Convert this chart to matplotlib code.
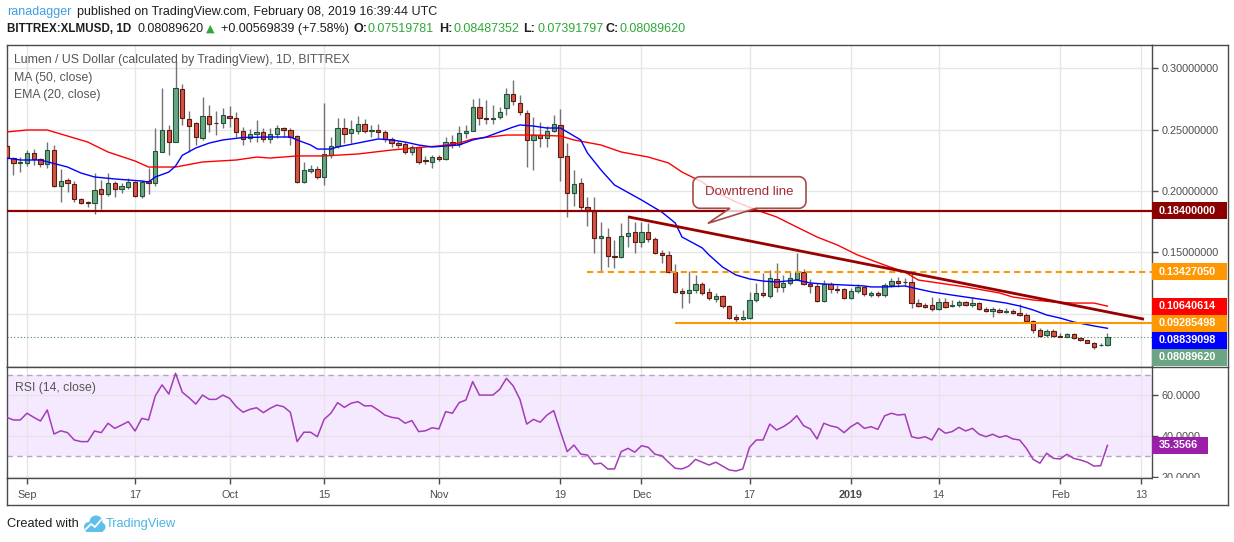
import numpy as np
import pandas as pd
import matplotlib
matplotlib.use("Agg")
import matplotlib.pyplot as plt
from matplotlib.patches import Rectangle, Circle, Polygon
from matplotlib.lines import Line2D
from matplotlib.transforms import IdentityTransform

W, H = 1234, 542
plt.rcParams['font.family'] = ['Liberation Sans', 'DejaVu Sans']

# XLM/USD daily candles, Bittrex, 2018-08-29 .. 2019-02-08
start = pd.Timestamp('2018-08-29')

opens = [
    .2366, .2268, .2228, .2228, .2309, .2260, .2220, .2333, .2041, .2089,
    .2057, .1935, .1911, .1902, .2016, .1976, .2065, .2016, .2033, .2073,
    .1959, .2081, .2065, .2317, .2496, .2398, .2829, .2585, .2553, .2431,
    .2610, .2553, .2553, .2610, .2593, .2488, .2431, .2463, .2480, .2423,
    .2463, .2512, .2496, .2447, .2073, .2163, .2179, .2114, .2293, .2366,
    .2512, .2472, .2488, .2545, .2488, .2496, .2480, .2423, .2390, .2382,
    .2317, .2358, .2252, .2236, .2276, .2260, .2398, .2382, .2472, .2488,
    .2683, .2593, .2585, .2602, .2675, .2789, .2715, .2634, .2415, .2455,
    .2431, .2488, .2537, .2285, .1984, .2065, .1870, .1837, .1618, .1626,
    .1472, .1463, .1634, .1667, .1585, .1667, .1610, .1496, .1480, .1341,
    .1187, .1171, .1195, .1244, .1179, .1122, .1146, .1065, .0976, .0959,
    .0967, .1114, .1171, .1146, .1285, .1220, .1252, .1285, .1341, .1244,
    .1228, .1106, .1244, .1203, .1203, .1130, .1187, .1220, .1154, .1171,
    .1154, .1236, .1268, .1260, .1260, .1089, .1073, .1073, .1041, .1098,
    .1065, .1073, .1098, .1073, .1089, .1041, .1024, .1033, .1016, .1024,
    .1008, .0992, .0943, .0870, .0829, .0862, .0823, .0815, .0838, .0805,
    .0785, .0768, .0745, .07519781]
highs = [
    .2382, .2276, .2276, .2333, .2341, .2268, .2398, .2374, .2179, .2106,
    .2081, .1943, .1919, .2146, .2089, .2146, .2081, .2065, .2106, .2081,
    .2089, .2187, .2512, .2837, .2537, .3049, .2870, .2650, .2561, .2764,
    .2699, .2650, .2675, .2691, .2642, .2520, .2504, .2577, .2512, .2512,
    .2537, .2520, .2512, .2455, .2236, .2211, .2203, .2715, .2439, .2593,
    .2593, .2577, .2610, .2585, .2537, .2545, .2496, .2439, .2407, .2398,
    .2374, .2366, .2285, .2293, .2293, .2439, .2455, .2528, .2537, .2748,
    .2756, .2740, .2699, .2683, .2837, .2902, .2780, .2659, .2602, .2561,
    .2528, .2618, .2667, .2390, .2171, .2106, .1951, .1951, .1748, .1699,
    .1602, .1740, .1789, .1748, .1748, .1740, .1626, .1520, .1512, .1407,
    .1211, .1350, .1317, .1260, .1211, .1171, .1154, .1073, .1000, .1033,
    .1179, .1252, .1333, .1358, .1415, .1317, .1341, .1496, .1366, .1285,
    .1252, .1276, .1260, .1236, .1211, .1211, .1244, .1228, .1187, .1187,
    .1252, .1293, .1301, .1293, .1333, .1122, .1089, .1138, .1130, .1130,
    .1114, .1114, .1106, .1138, .1098, .1057, .1057, .1049, .1049, .1041,
    .1081, .1008, .0951, .0886, .0878, .0878, .0846, .0846, .0846, .0813,
    .0789, .0772, .0764, .08487352]
lows = [
    .2252, .2130, .2154, .2203, .2211, .2195, .2187, .2033, .1911, .1992,
    .1911, .1894, .1870, .1813, .1854, .1959, .1951, .1984, .2016, .1951,
    .1943, .1976, .2041, .2317, .2293, .2398, .2537, .2317, .2374, .2415,
    .2480, .2455, .2512, .2520, .2439, .2374, .2398, .2398, .2398, .2390,
    .2431, .2439, .2374, .2065, .2065, .2146, .2098, .2049, .2268, .2350,
    .2390, .2390, .2463, .2472, .2439, .2431, .2398, .2358, .2350, .2301,
    .2293, .2220, .2220, .2187, .2244, .2252, .2350, .2358, .2431, .2488,
    .2537, .2545, .2545, .2585, .2618, .2699, .2618, .2195, .2171, .2358,
    .2358, .2480, .2081, .1789, .1878, .1846, .1715, .1496, .1341, .1382,
    .1374, .1455, .1545, .1496, .1545, .1585, .1488, .1415, .1333, .1171,
    .1049, .1089, .1171, .1154, .1114, .1098, .1049, .0959, .0927, .0951,
    .0959, .1098, .1138, .1130, .1179, .1179, .1236, .1276, .1236, .1171,
    .1098, .1098, .1171, .1171, .1122, .1122, .1171, .1146, .1138, .1138,
    .1138, .1220, .1220, .1228, .1049, .1057, .1049, .1024, .1033, .1049,
    .1057, .1057, .1065, .1057, .1033, .1016, .0976, .1008, .1008, .1000,
    .0984, .0927, .0846, .0813, .0813, .0813, .0813, .0810, .0797, .0780,
    .0764, .0715, .0740, .07391797]
closes = [
    .2268, .2228, .2236, .2309, .2260, .2220, .2333, .2041, .2081, .2065,
    .1935, .1902, .1902, .2008, .1976, .2065, .2016, .2041, .2073, .1959,
    .2073, .2065, .2325, .2496, .2398, .2837, .2593, .2528, .2439, .2610,
    .2545, .2550, .2618, .2593, .2480, .2423, .2463, .2480, .2423, .2463,
    .2512, .2496, .2439, .2073, .2171, .2179, .2114, .2301, .2366, .2512,
    .2463, .2504, .2545, .2488, .2496, .2480, .2423, .2390, .2374, .2317,
    .2358, .2236, .2244, .2276, .2260, .2398, .2382, .2472, .2488, .2683,
    .2593, .2585, .2593, .2642, .2789, .2732, .2642, .2415, .2455, .2431,
    .2488, .2545, .2276, .1984, .2057, .1870, .1837, .1618, .1634, .1472,
    .1463, .1634, .1659, .1585, .1667, .1610, .1496, .1480, .1341, .1179,
    .1171, .1195, .1244, .1171, .1130, .1146, .1065, .0967, .0959, .0976,
    .1114, .1171, .1154, .1293, .1220, .1252, .1293, .1341, .1244, .1228,
    .1106, .1244, .1203, .1195, .1130, .1187, .1220, .1163, .1171, .1154,
    .1236, .1268, .1252, .1258, .1089, .1065, .1057, .1041, .1098, .1057,
    .1073, .1098, .1073, .1089, .1041, .1024, .1041, .1016, .1024, .1008,
    .0992, .0943, .0870, .0821, .0862, .0821, .0815, .0838, .0805, .0789,
    .0768, .0732, .0752, .08089620]

# moving averages (day offset from start, value)
ma50_days = [0, 3, 6, 9, 12, 15, 19, 21, 23, 25, 29, 34, 37, 39, 43, 47, 52, 57,
             62, 64, 67, 69, 74, 78, 82, 84, 88, 91, 95, 98, 100, 103, 105, 108,
             111, 114, 117, 120, 123, 126, 128, 130, 133, 135, 138, 142, 147,
             149, 152, 155, 158, 161, 163]
ma50_vals = [.2480, .2496, .2496, .2447, .2398, .2317, .2244, .2195, .2195, .2195,
             .2236, .2252, .2276, .2268, .2285, .2285, .2301, .2333, .2358, .2366,
             .2390, .2423, .2455, .2455, .2447, .2415, .2374, .2317, .2276, .2228,
             .2154, .2073, .1992, .1911, .1846, .1789, .1707, .1626, .1561, .1480,
             .1439, .1398, .1341, .1276, .1252, .1220, .1171, .1138, .1114, .1098,
             .1089, .1089, .10640614]
ema20_days = [0, 2, 5, 9, 11, 13, 16, 20, 21, 22, 24, 25, 26, 28, 30, 32, 35, 39,
              42, 43, 45, 46, 48, 49, 52, 55, 57, 59, 61, 63, 65, 67, 69, 71, 73,
              75, 76, 78, 80, 82, 83, 85, 86, 88, 90, 94, 97, 99, 100, 103, 104,
              106, 108, 110, 112, 114, 117, 119, 121, 124, 127, 128, 130, 133,
              135, 137, 140, 142, 145, 148, 150, 152, 154, 156, 158, 161, 163]
ema20_vals = [.2268, .2252, .2252, .2195, .2146, .2114, .2098, .2081, .2073, .2114,
              .2154, .2203, .2290, .2350, .2390, .2415, .2435, .2439, .2439, .2415,
              .2374, .2341, .2341, .2358, .2390, .2423, .2415, .2398, .2374, .2358,
              .2366, .2374, .2415, .2439, .2480, .2520, .2537, .2528, .2512, .2512,
              .2480, .2415, .2309, .2171, .2049, .1927, .1829, .1740, .1626, .1537,
              .1480, .1382, .1317, .1285, .1268, .1260, .1276, .1252, .1244, .1236,
              .1228, .1220, .1220, .1228, .1203, .1179, .1154, .1138, .1114, .1089,
              .1065, .1033, .0992, .0967, .0935, .0903, .08839098]

rsi = [
    49.1, 47.8, 47.8, 51.1, 49.1, 47.3, 52.7, 40.9, 42.5, 41.6,
    38.0, 37.2, 37.2, 42.4, 41.6, 46.2, 43.7, 45.3, 47.0, 42.4,
    48.6, 47.8, 59.6, 65.0, 60.5, 70.7, 61.4, 58.7, 55.6, 60.0,
    57.9, 57.9, 60.0, 58.4, 54.3, 51.6, 53.0, 53.8, 51.4, 53.5,
    55.1, 54.3, 51.6, 37.2, 41.8, 41.8, 39.6, 48.1, 51.1, 56.3,
    54.0, 56.0, 56.8, 54.7, 54.8, 52.7, 50.2, 49.1, 48.6, 46.2,
    47.5, 42.1, 42.5, 44.0, 43.4, 51.9, 51.1, 56.3, 57.6, 66.6,
    60.0, 60.0, 60.0, 62.8, 68.2, 64.5, 57.9, 45.8, 48.1, 46.7,
    50.2, 52.4, 42.1, 32.3, 35.5, 31.1, 30.6, 26.2, 26.6, 23.8,
    23.8, 32.3, 33.9, 32.0, 35.2, 34.4, 31.0, 30.3, 27.1, 24.1,
    23.8, 25.2, 28.5, 27.1, 25.7, 27.1, 25.2, 23.3, 22.8, 23.8,
    34.4, 38.0, 38.0, 45.8, 42.9, 44.5, 46.7, 49.9, 45.0, 43.4,
    38.5, 46.2, 44.9, 44.2, 41.6, 44.5, 46.5, 43.7, 44.5, 43.2,
    49.8, 51.1, 50.2, 50.6, 39.6, 38.8, 39.6, 38.0, 43.7, 41.3,
    42.1, 44.2, 42.4, 43.7, 40.8, 39.6, 40.8, 39.3, 40.1, 38.5,
    38.0, 33.9, 28.5, 26.6, 31.5, 29.0, 28.7, 31.0, 29.0, 28.2,
    27.1, 25.2, 25.4, 35.3566]

level_184 = 0.184
level_134 = 0.13427050
level_093 = 0.09285498
dash_from = '2018-11-23'
solid_from = '2018-12-06'
trend_dates = ['2018-11-29', '2019-02-13 10:00']
trend_prices = [0.1790, 0.0958]
callout_text = 'Downtrend line'
callout_date = '2018-12-10 20:00'
callout_price = 0.1737

tick_dates = ['2018-09-01', '2018-09-17', '2018-10-01', '2018-10-15', '2018-11-01',
              '2018-11-19', '2018-12-01', '2018-12-17', '2019-01-01', '2019-01-14',
              '2019-02-01', '2019-02-13']
tick_labels = ['Sep', '17', 'Oct', '15', 'Nov', '19', 'Dec', '17', '2019', '14', 'Feb', '13']
price_ticks = [0.10, 0.15, 0.20, 0.25, 0.30]


def day(s):
    return (pd.Timestamp(s) - start) / pd.Timedelta(days=1)


def box(x0, y0, x1, y1):
    # pixel box, top-left origin -> figure fraction rect
    return [x0 / W, 1 - y1 / H, (x1 - x0) / W, (y1 - y0) / H]


def ftext(x, y, s, **kw):
    return fig.text(x / W, 1 - y / H, s, va='center', ha='left', **kw)


def fline(x0, y0, x1, y1, color='#4a4a4a'):
    fig.add_artist(Line2D([x0 / W, x1 / W], [1 - y0 / H, 1 - y1 / H],
                          color=color, lw=1, zorder=8))


days = np.arange(len(closes))
x_end = 169.6

fig = plt.figure(figsize=(W / 100, H / 100), dpi=100)
ax = fig.add_axes(box(7, 45, 1152, 367))
ax2 = fig.add_axes(box(7, 367, 1152, 478), sharex=ax)

# candles
for x, o, h, l, c in zip(days, opens, highs, lows, closes):
    up = c >= o
    ax.vlines(x, l, h, color='#737375', lw=1, zorder=2)
    ax.add_patch(Rectangle((x - 0.32, min(o, c)), 0.64, max(abs(c - o), 0.0004),
                           fc='#6ba583' if up else '#d75442',
                           ec='#225437' if up else '#5b1a13', lw=0.8, zorder=3))

ax.plot(ma50_days, ma50_vals, color='#ff0000', lw=1, zorder=4)
ax.plot(ema20_days, ema20_vals, color='#0000ff', lw=1, zorder=4)
ax.axhline(level_184, color='#8b0000', lw=1.6, zorder=4)
ax.hlines(level_134, day(dash_from), x_end, color='#ff9800', lw=1.5,
          linestyles=(0, (3, 2)), zorder=4)
ax.hlines(level_093, day(solid_from), x_end, color='#ff9800', lw=1.5, zorder=4)
ax.axhline(closes[-1], color='#4f8a63', lw=0.8, ls=(0, (1, 2)), zorder=1.5)
ax.plot([day(d) for d in trend_dates], trend_prices, color='#990000', lw=2.0,
        zorder=5, solid_capstyle='butt')

# RSI pane
ax2.axhspan(30, 70, color='#f5e9ff', lw=0, zorder=0.2)
ax2.axhline(70, color='#b4a7bd', lw=1, ls=(0, (4, 3)), zorder=1)
ax2.axhline(30, color='#b4a7bd', lw=1, ls=(0, (4, 3)), zorder=1)
ax2.plot(days, rsi, color='#a43cb8', lw=1.1, zorder=3)

for a in (ax, ax2):
    a.set_facecolor('white')
    for s in a.spines.values():
        s.set_color('#4a4a4a')
        s.set_linewidth(1)
    a.grid(True, color='#e6e6e6', lw=1)
    a.set_axisbelow(True)

ax.set_xlim(0.04, x_end)
ax.set_ylim(0.05691, 0.3187)
ax2.set_ylim(19.36, 73.77)

tick_x = [day(d) for d in tick_dates]
ax.set_xticks(tick_x)
ax.tick_params(axis='x', length=0, labelbottom=False)
ax.yaxis.tick_right()
ax.set_yticks(price_ticks)
ax.set_yticklabels(['' if v < 0.11 else f'{v:.8f}' for v in price_ticks])
ax.tick_params(axis='y', length=4, width=1, color='#4a4a4a', labelcolor='#4d4d4d',
               labelsize=7.8, pad=3)

ax2.yaxis.tick_right()
ax2.set_yticks([20, 40, 60], ['20.0000', '40.0000', '60.0000'])
ax2.tick_params(axis='y', length=4, width=1, color='#4a4a4a', labelcolor='#4d4d4d',
                labelsize=7.8, pad=3)
ax2.set_xticks(tick_x, tick_labels)
ax2.tick_params(axis='x', length=4, width=1, color='#4a4a4a', labelcolor='#4d4d4d',
                labelsize=7.8, pad=4.5)
for lbl in ax2.get_xticklabels():
    if lbl.get_text() == '2019':
        lbl.set_fontweight('bold')

fig.canvas.draw()

# callout box with pointer, drawn as one outline in pixel space
bx0, bx1, yb, yt, r = 693, 806, H - 208.3, H - 176.7, 7
tx, ty = ax.transData.transform((day(callout_date), callout_price))


def arc(cx, cy, a0, a1):
    t = np.radians(np.linspace(a0, a1, 8))
    return list(zip(cx + r * np.cos(t), cy + r * np.sin(t)))


outline = ([(756, yb), (bx1 - r, yb)] + arc(bx1 - r, yb + r, -90, 0)
           + arc(bx1 - r, yt - r, 0, 90) + arc(bx0 + r, yt - r, 90, 180)
           + arc(bx0 + r, yb + r, 180, 270) + [(730, yb), (tx, ty)])
fig.add_artist(Polygon(outline, closed=True, transform=IdentityTransform(),
                       fc='white', alpha=0.78, ec='none', zorder=9))
fig.add_artist(Polygon(outline, closed=True, transform=IdentityTransform(),
                       fill=False, ec='#a84a4a', lw=1.2, zorder=9.1))
ftext(749, 192, callout_text, color='#a22a35', size=9.5, zorder=9.2).set_ha('center')

# coloured price tags on the right scale
tags = [(level_184, '#8b0000'), (level_134, '#ff9800'), (ma50_vals[-1], '#ff0000'),
        (level_093, '#ff9800'), (ema20_vals[-1], '#0000ff'), (closes[-1], '#6ba583')]
prev = 1e9
for val, col in sorted(tags, key=lambda t: -t[0]):
    y = min(ax.transData.transform((0, val))[1], prev - 17)
    prev = y
    fig.add_artist(Rectangle((1152, y - 8.5), 75, 17, transform=IdentityTransform(),
                             fc=col, ec='none', zorder=6))
    fig.text(1159 / W, y / H, f'{val:.8f}', color='white', weight='bold', size=7.8,
             va='center', ha='left', zorder=7)

fig.add_artist(Rectangle((1153, H - 504), 74, 26, transform=IdentityTransform(),
                         fc='white', ec='none', zorder=5))
y = ax2.transData.transform((0, rsi[-1]))[1]
fig.add_artist(Rectangle((1152, y - 8.5), 56, 17, transform=IdentityTransform(),
                         fc='#9b1fa8', ec='none', zorder=6))
fig.text(1159 / W, y / H, f'{rsi[-1]:.4f}', color='white', weight='bold', size=7.8,
         va='center', ha='left', zorder=7)

# outer frame
fline(1228, 45, 1228, 505)
fline(1152, 45, 1228, 45)
fline(1152, 367, 1228, 367)
fline(7, 505, 1228, 505)
fline(7, 478, 7, 505)

# pane titles
ftext(14, 60, 'Lumen / US Dollar (calculated by TradingView), 1D, BITTREX',
      color='#555555', size=8.8)
ftext(14, 78, 'MA (50, close)', color='#555555', size=8.8)
ftext(14, 95, 'EMA (20, close)', color='#555555', size=8.8)
ftext(15, 388, 'RSI (14, close)', color='#555555', size=8.8)

# header
green = '#2fa83a'
chg = closes[-1] - opens[-1]
pct = chg / opens[-1] * 100
ftext(7, 12, 'ranadagger', color='#3d9fe0', size=9)
ftext(77, 12, 'published on TradingView.com, February 08, 2019 16:39:44 UTC',
      color='#1e1e1e', size=9)
ftext(7, 29, 'BITTREX:XLMUSD, 1D', color='#1e1e1e', size=8.4, weight='bold')
ftext(138, 29, f'{closes[-1]:.8f}', color='#1e1e1e', size=9)
ftext(206, 29, '\u25b2', color=green, size=8, family='DejaVu Sans')
ftext(221, 29, f'+{chg:.8f} (+{pct:.2f}%)', color='#1e1e1e', size=9)
for x, key, v in [(353, 'O:', opens[-1]), (439, 'H:', highs[-1]),
                  (523, 'L:', lows[-1]), (605, 'C:', closes[-1])]:
    ftext(x, 29, key, color='#1e1e1e', size=9, weight='bold')
    ftext(x + 14, 29, f'{v:.8f}', color=green, size=9)

# footer
ftext(7, 524, 'Created with', color='#1e1e1e', size=9.2)
logo = '#5ec0ea'
for cx, cy, rr in [(89, 527, 5), (96, 522, 6.5), (101, 527, 4.5)]:
    fig.add_artist(Circle((cx, H - cy), rr, transform=IdentityTransform(),
                          fc=logo, ec='none', zorder=6))
fig.add_artist(Rectangle((86, H - 532), 17, 6, transform=IdentityTransform(),
                         fc=logo, ec='none', zorder=6))
zig = [(86, 529), (91, 524), (95, 527), (101, 520)]
fig.add_artist(Line2D([p[0] for p in zig], [H - p[1] for p in zig],
                      transform=IdentityTransform(), color='white', lw=1.3, zorder=7))
ftext(106, 524, 'TradingView', color='#4bb3e6', size=9.2)

fig.savefig('out.png', dpi=100, facecolor='white')
